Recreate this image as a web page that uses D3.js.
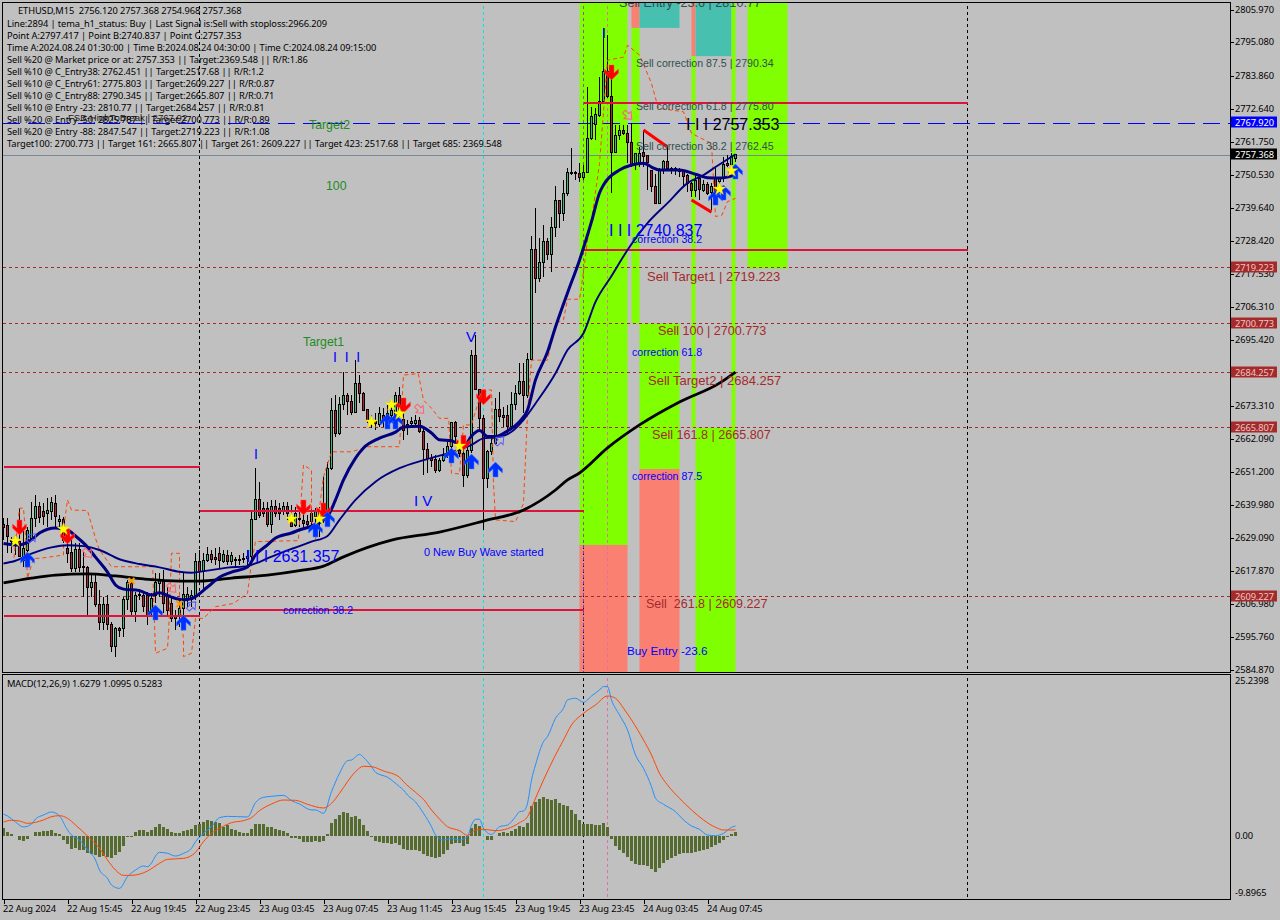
<!DOCTYPE html>
<html><head><meta charset="utf-8">
<script src="https://cdnjs.cloudflare.com/ajax/libs/d3/7.8.5/d3.min.js"></script>
<style>
html,body{margin:0;padding:0;background:#c0c0c0;overflow:hidden}
svg{display:block}
text{white-space:pre}
.ui{font-family:"Noto Sans",sans-serif;font-size:9.3px;letter-spacing:-0.1px;fill:#000}
.lab{font-family:"Liberation Sans",sans-serif}
</style></head><body><svg id="c" width="1280" height="920"></svg>
<script>
// ---------- candles (bars 0..183), ETHUSD M15 ----------
const opens=[
2633.3,2633.1,2628.2,2626.6,2627.7,2621.5,2624.9,2628.2,2635.5,2639.6,
2637.7,2637.2,2637.7,2640.5,2634.4,2635.2,2625.5,2624.0,2618.8,2625.2,
2619.5,2619.1,2612.4,2614.0,2606.8,2600.6,2606.5,2600.1,2592.5,2598.7,
2598.7,2608.2,2613.7,2604.2,2610.0,2609.5,2609.5,2604.8,2609.8,2613.7,
2614.3,2609.8,2607.0,2602.6,2602.6,2605.4,2608.2,2608.2,2609.2,2621.2,
2617.6,2621.5,2623.4,2622.4,2623.8,2621.2,2623.2,2621.0,2621.8,2621.8,
2621.8,2622.1,2622.7,2635.0,2641.7,2638.9,2638.9,2633.3,2639.6,2638.9,
2638.3,2639.6,2635.2,2633.0,2635.5,2634.7,2634.4,2634.4,2636.1,2637.7,
2640.0,2637.7,2652.3,2671.8,2664.0,2673.5,2676.8,2674.6,2670.9,2680.7,
2677.4,2672.0,2668.2,2668.0,2667.1,2669.8,2669.0,2670.1,2669.6,2676.8,
2668.7,2667.1,2667.3,2667.3,2668.4,2664.5,2658.6,2655.6,2655.3,2651.7,
2655.0,2656.7,2659.5,2667.6,2658.4,2657.3,2650.0,2658.4,2689.9,2678.7,
2669.0,2648.9,2657.8,2660.6,2672.0,2669.8,2669.8,2666.2,2673.5,2677.4,
2681.3,2676.8,2688.8,2725.6,2715.9,2721.3,2728.2,2723.9,2733.0,2741.9,
2737.7,2744.4,2751.4,2751.3,2750.9,2749.7,2751.4,2762.6,2767.6,2770.6,
2775.1,2785.1,2776.8,2758.0,2763.6,2765.6,2764.5,2761.4,2753.9,2754.4,
2758.0,2756.9,2752.0,2746.8,2741.0,2752.2,2755.2,2752.8,2752.8,2752.4,
2751.6,2750.5,2747.7,2745.5,2749.2,2745.5,2747.4,2744.6,2749.4,2748.3,
2749.4,2754.4,2753.9,2756.12];
const highs=[
2635.5,2635.5,2629.4,2629.9,2638.9,2632.2,2632.5,2641.1,2643.3,2641.1,
2640.5,2642.2,2642.8,2643.3,2636.6,2636.1,2629.9,2628.2,2627.1,2627.1,
2624.3,2619.5,2616.5,2617.1,2611.5,2609.2,2609.8,2600.9,2599.2,2599.2,
2609.2,2614.9,2614.9,2610.9,2612.0,2610.9,2610.9,2610.4,2617.1,2617.1,
2618.2,2612.6,2609.2,2604.8,2608.2,2617.1,2612.6,2611.5,2623.8,2624.9,
2623.8,2626.0,2624.9,2625.5,2626.0,2624.9,2624.9,2624.3,2622.7,2623.2,
2623.8,2624.9,2637.7,2652.3,2647.8,2641.1,2641.1,2641.7,2641.7,2640.5,
2641.1,2641.1,2640.0,2639.4,2637.7,2637.7,2636.6,2638.9,2638.9,2639.4,
2649.5,2654.5,2675.7,2676.8,2676.3,2684.6,2677.4,2676.8,2688.5,2683.5,
2677.9,2672.0,2670.1,2670.7,2672.9,2672.4,2673.5,2673.5,2677.9,2679.6,
2671.8,2668.4,2669.3,2670.1,2669.6,2666.2,2660.6,2657.0,2656.7,2655.6,
2659.0,2661.2,2667.9,2668.2,2660.1,2660.6,2660.1,2691.9,2697.0,2679.0,
2670.1,2658.4,2662.9,2675.7,2677.9,2672.9,2673.5,2677.9,2680.2,2687.4,
2687.4,2690.8,2730.1,2739.4,2729.3,2733.8,2729.3,2736.6,2746.8,2742.1,
2748.9,2752.8,2759.5,2752.0,2754.4,2754.0,2780.1,2773.4,2772.9,2783.5,
2799.7,2797.4,2784.0,2767.3,2767.3,2767.3,2767.3,2767.8,2757.8,2760.0,
2765.6,2757.2,2752.2,2751.0,2752.8,2755.5,2760.0,2753.3,2753.3,2752.8,
2752.0,2751.0,2748.3,2750.5,2750.0,2748.8,2748.3,2747.7,2752.8,2750.0,
2756.6,2757.2,2757.8,2757.368];
const lows=[
2628.2,2623.8,2623.8,2623.2,2622.4,2619.3,2624.3,2628.2,2632.7,2633.8,
2633.3,2632.7,2634.9,2632.7,2631.6,2627.1,2620.4,2617.6,2617.6,2617.6,
2609.2,2602.6,2609.2,2605.9,2598.1,2598.1,2598.1,2590.8,2589.2,2595.9,
2595.9,2604.8,2602.6,2600.9,2608.2,2604.2,2599.8,2602.6,2607.0,2609.2,
2603.7,2602.6,2600.9,2598.1,2599.2,2602.6,2605.9,2605.9,2608.2,2614.9,
2611.5,2621.0,2620.4,2619.9,2618.8,2620.4,2619.9,2619.9,2619.3,2619.9,
2620.4,2619.9,2621.0,2635.0,2635.5,2636.1,2632.7,2630.5,2636.1,2634.9,
2636.6,2634.9,2632.7,2632.7,2632.7,2632.2,2632.2,2632.7,2631.6,2629.4,
2633.8,2636.6,2651.7,2662.9,2663.4,2671.8,2670.1,2670.1,2670.7,2674.0,
2671.8,2667.3,2665.7,2665.1,2666.2,2666.2,2666.2,2668.4,2668.4,2669.6,
2661.8,2663.4,2665.7,2666.2,2664.0,2650.0,2650.6,2652.8,2650.8,2651.1,
2654.5,2655.6,2657.8,2660.1,2656.2,2645.9,2648.9,2657.5,2678.5,2665.1,
2631.6,2645.6,2656.7,2660.1,2667.9,2666.2,2664.0,2665.1,2671.8,2676.8,
2670.7,2675.7,2688.5,2710.9,2714.8,2716.5,2722.0,2718.1,2729.9,2732.7,
2735.2,2743.6,2750.5,2748.8,2748.3,2749.0,2751.1,2762.3,2762.3,2770.0,
2774.5,2776.2,2744.4,2757.8,2762.3,2763.9,2754.4,2753.3,2752.2,2753.3,
2753.3,2745.5,2744.9,2740.8,2740.8,2751.0,2752.2,2751.0,2750.5,2750.0,
2746.6,2744.9,2743.3,2743.3,2742.1,2744.9,2743.8,2738.8,2740.5,2744.9,
2748.3,2753.3,2753.3,2754.968];
const closes=[
2632.5,2629.4,2627.7,2628.2,2622.7,2625.5,2631.6,2635.5,2639.6,2635.8,
2636.1,2638.1,2640.8,2636.1,2635.2,2628.2,2623.8,2618.8,2625.2,2619.1,
2619.1,2612.4,2614.0,2606.5,2600.6,2606.5,2600.1,2592.5,2598.7,2597.9,
2608.2,2614.0,2604.2,2609.8,2609.6,2605.9,2603.1,2608.7,2614.0,2614.9,
2607.0,2604.8,2602.0,2601.8,2605.4,2610.0,2610.0,2609.8,2621.2,2617.6,
2621.3,2623.4,2621.8,2621.8,2621.3,2623.4,2621.2,2623.2,2621.3,2621.5,
2622.1,2622.7,2635.2,2641.7,2636.6,2637.2,2633.3,2639.6,2637.2,2637.0,
2639.6,2637.2,2632.9,2637.2,2635.0,2633.8,2633.6,2637.2,2638.3,2634.4,
2636.1,2652.3,2671.8,2664.0,2673.5,2676.8,2674.6,2670.9,2680.7,2677.4,
2671.8,2668.4,2667.6,2667.3,2670.7,2668.4,2670.7,2671.8,2676.8,2671.8,
2665.1,2666.2,2667.9,2668.2,2664.5,2658.6,2655.6,2654.8,2651.7,2654.8,
2656.7,2659.7,2667.6,2662.9,2657.3,2650.0,2658.2,2689.9,2678.7,2669.0,
2648.9,2657.8,2660.6,2672.0,2669.6,2669.3,2666.2,2673.5,2677.4,2681.3,
2676.8,2688.8,2725.6,2715.9,2721.3,2728.2,2723.9,2733.0,2741.9,2737.7,
2744.4,2751.3,2751.2,2750.9,2749.7,2751.4,2762.6,2770.1,2770.8,2775.1,
2785.1,2776.8,2758.0,2763.9,2765.6,2764.3,2761.4,2753.9,2757.6,2757.8,
2756.7,2754.8,2746.6,2741.0,2752.2,2755.2,2752.8,2752.0,2752.2,2751.6,
2750.0,2747.7,2745.5,2748.8,2745.7,2747.4,2744.4,2746.8,2744.9,2749.4,
2753.9,2753.6,2756.7,2757.368];

// ---------- moving averages: bar index + price read at those bars ----------
const maFastBars=[0,4,7,9,13,16,18,21,23,26,28,30,34,37,39,42,45,47,51,54,57,61,63,66,68,72,74,77,81,83,85,88,90,94,98,100,104,107,109,112,115,117,119,121,123,126,129,131,133,136,138,141,144,147,149,150,154,157,160,162,164,169,173,176,179,183];
const maFast=[2627.1,2626.6,2628.3,2630.6,2632.3,2631.6,2629.6,2625.9,2622.5,2617.5,2613.2,2611.8,2611.3,2609.8,2610.6,2609.1,2608.2,2608.6,2612.5,2615.8,2617.5,2619.2,2623.2,2626.6,2628.9,2630.6,2631.6,2632.9,2636.1,2641.7,2648.4,2655.7,2659.1,2662.4,2664.4,2666.1,2666.4,2664.1,2661.8,2661.5,2659.5,2663.1,2664.9,2662.9,2662.9,2664.8,2667.9,2671.8,2681.9,2691.2,2699.6,2711.0,2722.0,2734.9,2744.5,2747.2,2752.2,2753.9,2754.5,2753.2,2752.2,2752.2,2750.8,2749.6,2749.5,2750.5];
const maSlowBars=[0,3,7,12,16,20,24,29,34,39,44,47,51,56,61,63,66,70,74,77,81,84,88,93,99,105,111,117,120,123,127,130,133,138,141,145,148,152,156,161,166,171,175,178,183];
const maSlow=[2620.4,2621.3,2623.7,2625.8,2626.5,2626.2,2624.9,2621.8,2620.2,2619.1,2617.6,2617.3,2618.0,2619.0,2619.5,2620.4,2622.1,2624.3,2626.2,2627.7,2629.6,2635.0,2641.7,2647.8,2652.3,2655.0,2657.3,2660.1,2662.3,2662.6,2664.5,2668.5,2674.0,2684.1,2691.9,2697.5,2708.0,2716.7,2725.4,2734.4,2741.1,2747.8,2750.5,2753.2,2757.5];
const maLongBars=[0,7,13,21,28,35,44,49,57,66,74,80,85,97,109,120,130,138,141,144,151,159,169,179,183];
const maLong=[2613.9,2615.5,2616.5,2616.9,2616.2,2615.2,2614.5,2614.5,2615.5,2616.5,2618.0,2619.5,2622.6,2628.2,2630.9,2634.6,2638.3,2645.0,2648.4,2650.7,2659.1,2666.8,2674.5,2680.8,2684.5];

// ---------- dashed orange envelope ----------
const envBars=[0,2.5,4,5,5.4,6,7.5,9,15,15,16,17,21,23,24,27,36,37.3,37.5,38,41,41.3,42,44,44,45,45,47,48,50,53,57.5,61,62,63,72,73.7,75,77,77,78,80,82,87,91,99,100,103.7,105,107,109,111.3,112,114,115,117,119.6,122,122.5,123,128,130,131,132,136,138,140,141,144,144.5,146,147,149,151,155,156,159,162,163.7,170,172,177,178,179.6,181,183];
const envPrice=[2620.4,2621,2638.9,2638.9,2632.2,2615.4,2622.1,2622.1,2623.2,2631.6,2641.7,2638.3,2638.1,2628.8,2624.9,2619.3,2619.3,2619.3,2610.4,2590.3,2592,2598.1,2623.8,2623.8,2608.2,2594.8,2589.2,2590.3,2602,2602,2605.9,2607,2610.4,2620.4,2627.7,2628,2628,2653.4,2651.7,2635,2628.3,2649.5,2657.8,2657.8,2659.5,2659.5,2683.5,2684,2675.1,2672.4,2669,2669,2650.6,2650.4,2666.8,2666.8,2678.5,2678.5,2647.2,2635,2634.4,2640.5,2670.7,2688.5,2688.5,2700.8,2702,2708.9,2708.9,2713,2728.7,2735.4,2754.4,2789,2790,2794,2790.7,2781.2,2772.9,2771.7,2764.5,2761.1,2736.6,2737.1,2741.6,2742.7];

// ---------- signal markers (bar, price) ----------
const sellArrowBars=[4,16,75,80,100,115,120,152];
const sellArrowPrice=[2632.6,2629.6,2639.3,2638.3,2673.5,2661,2676.2,2785];
const buyArrowBars=[6,38,45,78,81,96,98,112,117,123,178,180,183];
const buyArrowPrice=[2621.5,2603.8,2600.4,2631.6,2635,2667.8,2667.8,2656.4,2654.4,2651.7,2742.8,2744.5,2751.5];
const starBars=[3,15,72,79,92,97,99,114,179,182];
const starPrice=[2627.9,2631.9,2635.3,2635.3,2667.8,2673.5,2670.5,2659.7,2745.8,2751.9];
const crossBars=[32,44];
const crossPrice=[2614.5,2606.8];
const hollowSellBars=[21,42,104,156];
const hollowSellPrice=[2623.9,2612.2,2672.1,2770.6];
const hollowBuyBars=[7,47,124];
const hollowBuyPrice=[2628.9,2606.1,2661.4];

// ---------- levels ----------
const targetLevels=[2719.223,2700.773,2684.257,2665.807,2609.227];
const highToBreak=2767.920, lastPrice=2757.368;
const segBarsFrom=[0,49,0,49,145,145];
const segBarsTo=[49,145,49,145,241,241];
const segPrice=[2652.7,2638.0,2602.8,2604.8,2774.65,2725.4];
const wedgeFrom=[160,172], wedgeTo=[166,177];
const wedgePriceFrom=[2765.6,2742.15], wedgePriceTo=[2759.9,2738.1];

// ---------- zones: start bar, end bar, upper price, lower price, kind ----------
const zoneStart=[144,144,157,157,159,159,159,172,172,173,173,182,186];
const zoneEnd=[156,156,159,159,169,169,169,173,173,182,183,183,196];
const zoneUpper=[2815,2626.6,2815,2799.8,2815,2700.773,2652,2815,2790.34,2815,2665.807,2815,2815];
const zoneLower=[2626.6,2580,2799.8,2700.773,2799.8,2652,2580,2790.34,2665.807,2790.34,2580,2665.807,2719.223];
const zoneKind=["g","s","s","g","t","g","s","s","g","t","g","g","g"];

// ---------- axes ----------
const priceTicks=[2805.970,2795.080,2783.860,2772.640,2761.750,2750.530,2739.640,2728.420,2717.530,2706.310,2695.420,2673.310,2662.090,2651.200,2639.980,2629.090,2617.870,2606.980,2595.760,2584.870];
const timeTickBars=[0,16,32,48,64,80,96,112,128,144,160,176];
const timeLabels=["22 Aug 2024","22 Aug 15:45","22 Aug 19:45","22 Aug 23:45","23 Aug 03:45","23 Aug 07:45","23 Aug 11:45","23 Aug 15:45","23 Aug 19:45","23 Aug 23:45","24 Aug 03:45","24 Aug 07:45"];
const macdTicks=[25.2398,0,-9.8965];
const macdTickLabels=["25.2398","0.00","-9.8965"];

// ---------- MACD ----------
const macdHist=[
1.3,.65,.38,.05,-.65,-.8,-.5,.05,.65,.65,.8,.8,1,.5,.33,-.65,-1.3,-2.1,-1.95,-2.3,
-2.3,-2.8,-2.9,-3.1,-3.4,-3.25,-3.4,-3.6,-3.1,-2.6,-1.6,-.15,-.1,.65,1,1,.65,1,1.45,1.95,
1.45,1.15,.65,.5,.5,.8,1,1.15,1.8,1.95,2.3,2.6,2.45,2.3,2.1,1.45,1.8,1.15,1,.65,
.5,.5,1.15,1.95,1.95,1.95,1.45,1.45,1.15,1,.8,.5,-.25,-.25,-.5,-1,-1,-1,-.8,-1,
-.8,.33,2.1,2.8,3.4,3.9,3.75,3.1,3.25,2.8,1.8,.8,0,-.8,-1,-1.15,-1.15,-1.3,-1.15,-1.45,
-2.1,-2.3,-2.3,-2.3,-2.45,-2.9,-3.25,-3.4,-3.6,-3.4,-2.9,-2.3,-1.3,-1.15,-1.15,-1.6,-1.3,1.3,1.95,1.6,
.05,-.65,-.65,.05,.5,.65,.5,.8,1.15,1.6,1.45,2.1,4.9,5.55,6,6.35,6,5.85,6,5.4,
5.05,4.9,4.25,3.6,2.6,1.95,1.95,1.95,1.8,1.8,2.1,1.45,-.45,-1.6,-2.3,-2.8,-3.4,-4.1,-4.55,-4.7,
-4.7,-4.9,-5.4,-5.85,-5.2,-4.4,-3.9,-3.6,-3.25,-2.9,-2.8,-2.8,-2.8,-2.6,-2.45,-2.3,-2.1,-1.8,-1.45,-1.15,
-.65,-.15,.33,.65];
const macdMainBars=[0,1,3,5,7,8,10,12,14,16,17,19,21,23,24,26,27,29,31,33,35,36,39,41,43,45,47,48,50,52,54,56,61,63,65,67,70,72,74,77,78,80,82,84,86,87,89,90,92,93,96,99,100,101,103,105,107,108,110,112,114,116,117,118,119,120,122,124,126,128,129,130,131,132,133,135,136,138,140,141,143,145,147,149,150,151,152,154,156,158,160,162,163,165,168,170,172,174,176,178,180,182,183];
const macdMain=[3.58,3.26,2.28,1.47,1.95,2.77,3.42,3.91,3.26,.98,.16,-.65,-2.28,-3.9,-5.54,-6.9,-7.98,-8.53,-6.62,-5.54,-4.89,-5,-2.66,-2.82,-3.26,-2.82,-2,-.92,.43,1.52,2.99,3.2,3.1,5.43,6.3,6.46,6.62,5.76,5.21,4.24,4.24,3.69,7.22,10.2,12.27,12.38,13.3,12.81,11.29,10.37,9.56,8.04,7.49,6.68,5.54,3.69,1.52,.16,-.65,-.38,-.65,-.1,1.79,2.72,2.72,1.25,.27,1.52,1.79,3.15,3.96,4.07,5.32,9.12,11.57,15.37,16.18,19.17,20.8,22.15,22.43,21.77,22.8,23.78,24.33,24.33,22.15,19.71,17.27,13.19,11.02,8.04,6.14,5.16,3.96,2.61,1.63,1.09,.16,.05,.43,1.41,1.63];
const macdSignalBars=[0,2,4,6,8,10,12,14,16,18,21,24,26,28,30,32,36,39,41,45,48,50,52,54,57,60,62,64,67,70,73,76,80,82,84,86,88,90,92,95,99,100,103,105,107,109,111,114,116,118,120,123,126,129,131,133,135,138,140,142,145,148,151,153,155,157,160,162,164,166,169,172,175,178,180,183];
const macdSignal=[2.28,2.55,2.44,2.06,2.23,2.61,3.15,3.31,2.88,1.79,0,-2,-3.91,-5.54,-6.41,-6.41,-5.7,-4.45,-3.8,-3.64,-2.66,-.92,.43,1.25,2.17,2.5,2.99,4.13,5.21,5.86,5.81,5.16,4.56,5.32,6.95,8.85,10.48,11.35,11.29,10.59,9.56,8.85,7.11,5.97,4.24,2.77,1.52,.87,.11,.98,1.09,.87,1.19,2.17,3.15,6.14,9.12,13.19,15.64,18.08,19.98,21.34,22.8,22.43,20.8,18.9,15.64,13.19,10.2,8.31,6.14,4.24,2.61,1.41,.98,.98];

// ---------- text ----------
const infoLines=[
"Line:2894 | tema_h1_status: Buy | Last Signal is:Sell with stoploss:2966.209",
"Point A:2797.417 | Point B:2740.837 | Point C:2757.353",
"Time A:2024.08.24 01:30:00 | Time B:2024.08.24 04:30:00 | Time C:2024.08.24 09:15:00",
"Sell %20 @ Market price or at: 2757.353 || Target:2369.548 || R/R:1.86",
"Sell %10 @ C_Entry38: 2762.451 || Target:2517.68 || R/R:1.2",
"Sell %10 @ C_Entry61: 2775.803 || Target:2609.227 || R/R:0.87",
"Sell %10 @ C_Entry88: 2790.345 || Target:2665.807 || R/R:0.71",
"Sell %10 @ Entry -23: 2810.77 || Target:2684.257 || R/R:0.81",
"Sell %20 @ Entry -50: 2825.787 || Target:2700.773 || R/R:0.89",
"Sell %20 @ Entry -88: 2847.547 || Target:2719.223 || R/R:1.08",
"Target100: 2700.773 || Target 161: 2665.807 || Target 261: 2609.227 || Target 423: 2517.68 || Target 685: 2369.548"];
const headerText="ETHUSD,M15  2756.120 2757.368 2754.968 2757.368";
const macdTitle="MACD(12,26,9) 1.6279 1.0995 0.5283";

const svg=d3.select("#c");
const W=1280,paneR=1230,paneL=2.5;
const x=d3.scaleLinear().domain([0,241]).range([3.5,967.5]);
const y=d3.scaleLinear().domain([2805.97,2584.87]).range([9.5,669.5]);
const ym=d3.scaleLinear().domain([0,25.2398]).range([836,681]);

svg.append("rect").attr("width",W).attr("height",920).attr("fill","#c0c0c0");
const defs=svg.append("defs");
defs.append("clipPath").attr("id","pm").append("rect").attr("x",3).attr("y",3).attr("width",paneR-3).attr("height",669);
defs.append("clipPath").attr("id","pb").append("rect").attr("x",3).attr("y",675).attr("width",paneR-3).attr("height",224);
const main=svg.append("g").attr("clip-path","url(#pm)");
const sub=svg.append("g").attr("clip-path","url(#pb)");

// zones
const zoneColors={g:"#7fff00",s:"#fa8072",t:"#48c0b0"};
main.append("g").selectAll("rect").data(d3.range(zoneStart.length)).join("rect")
 .attr("x",i=>x(zoneStart[i])).attr("width",i=>x(zoneEnd[i])-x(zoneStart[i]))
 .attr("y",i=>y(zoneUpper[i])).attr("height",i=>y(zoneLower[i])-y(zoneUpper[i]))
 .attr("fill",i=>zoneColors[zoneKind[i]]);

// verticals
const vBars=[49,120,145,151,241];
const vCol=["#000","#00e5e5","#000","#e06fa8","#000"];
[main,sub].forEach(g=>{
 g.append("g").selectAll("line").data(vBars).join("line")
  .attr("x1",d=>x(d)).attr("x2",d=>x(d)).attr("y1",0).attr("y2",920)
  .attr("stroke",(d,i)=>vCol[i]).attr("stroke-width",1).attr("stroke-dasharray","3,3").attr("shape-rendering","crispEdges");
});
// the line at bar 145 reads purple on green and blue on salmon
main.append("line").attr("x1",x(145)).attr("x2",x(145)).attr("y1",0).attr("y2",y(2626.6)).attr("stroke","#8a55a8").attr("stroke-dasharray","3,3").attr("shape-rendering","crispEdges");
main.append("line").attr("x1",x(145)).attr("x2",x(145)).attr("y1",y(2626.6)).attr("y2",672).attr("stroke","#4a4ad0").attr("stroke-dasharray","3,3").attr("shape-rendering","crispEdges");

// horizontals
main.append("g").selectAll("line").data(targetLevels).join("line")
 .attr("x1",3).attr("x2",paneR).attr("y1",d=>Math.round(y(d))-.5).attr("y2",d=>Math.round(y(d))-.5)
 .attr("stroke","#a52a2a").attr("stroke-dasharray","3,3").attr("shape-rendering","crispEdges");
main.append("line").attr("x1",3).attr("x2",paneR).attr("y1",Math.round(y(highToBreak))+.5).attr("y2",Math.round(y(highToBreak))+.5)
 .attr("stroke","#0000ff").attr("stroke-dasharray","17,8").attr("shape-rendering","crispEdges");
main.append("line").attr("x1",3).attr("x2",paneR).attr("y1",Math.round(y(lastPrice))+.5).attr("y2",Math.round(y(lastPrice))+.5)
 .attr("stroke","#778899").attr("shape-rendering","crispEdges");

// candles
const cg=main.append("g").attr("shape-rendering","crispEdges");
opens.forEach((o,i)=>{
 const c=closes[i],px=x(i);
 cg.append("line").attr("x1",px).attr("x2",px).attr("y1",y(highs[i])).attr("y2",y(lows[i])).attr("stroke","#000");
 const t=Math.max(o,c),b=Math.min(o,c);
 cg.append("rect").attr("x",px-1).attr("width",2).attr("y",y(t)).attr("height",Math.max(1,y(b)-y(t)))
  .attr("fill",c>=o?"#3cb878":"#b22234").attr("stroke","#000").attr("stroke-width",1);
});

// segments
main.append("g").selectAll("line").data(segPrice).join("line")
 .attr("x1",(d,i)=>x(segBarsFrom[i])).attr("x2",(d,i)=>x(segBarsTo[i])).attr("y1",d=>y(d)).attr("y2",d=>y(d))
 .attr("stroke","#dc143c").attr("stroke-width",2).attr("shape-rendering","crispEdges");
main.append("g").selectAll("line").data(wedgeFrom).join("line")
 .attr("x1",d=>x(d)).attr("x2",(d,i)=>x(wedgeTo[i])).attr("y1",(d,i)=>y(wedgePriceFrom[i])).attr("y2",(d,i)=>y(wedgePriceTo[i]))
 .attr("stroke","#ff0000").attr("stroke-width",3);

// envelope, MAs
const line=(bars,vals,yy,curve)=>d3.line().curve(curve||d3.curveLinear).x((d,i)=>x(bars[i])).y((d,i)=>yy(vals[i]))(vals);
const smooth=d3.curveMonotoneX;
main.append("path").attr("d",line(envBars,envPrice,y)).attr("fill","none").attr("stroke","#ff4500").attr("stroke-dasharray","4,3");
main.append("path").attr("d",line(maLongBars,maLong,y,smooth)).attr("fill","none").attr("stroke","#000").attr("stroke-width",2.8);
main.append("path").attr("d",line(maSlowBars,maSlow,y,smooth)).attr("fill","none").attr("stroke","#000080").attr("stroke-width",1.9);
main.append("path").attr("d",line(maFastBars,maFast,y,smooth)).attr("fill","none").attr("stroke","#000080").attr("stroke-width",3);

// markers
const upArrow="M0,-8L7,-1L7,3L2.5,-1L2.5,7L-2.5,7L-2.5,-1L-7,3L-7,-1Z";
const hollow="M0,-6L5,0L2,0L2,5L-2,5L-2,0L-5,0Z";
function marks(bars,prices,fn){const g=main.append("g");bars.forEach((b,i)=>fn(g,x(b),y(prices[i])));}
marks(sellArrowBars,sellArrowPrice,(g,a,b)=>g.append("path").attr("d",upArrow).attr("transform",`translate(${a},${b}) rotate(180)`).attr("fill","#ff0000").attr("stroke","#ff5050").attr("stroke-width",.5));
marks(buyArrowBars,buyArrowPrice,(g,a,b)=>g.append("path").attr("d",upArrow).attr("transform",`translate(${a},${b})`).attr("fill","#0030ff").attr("stroke","#3a80ff").attr("stroke-width",.5));
marks(hollowSellBars,hollowSellPrice,(g,a,b)=>g.append("path").attr("d",hollow).attr("transform",`translate(${a},${b}) rotate(135)`).attr("fill","none").attr("stroke","#ff6070").attr("stroke-width",1));
marks(hollowBuyBars,hollowBuyPrice,(g,a,b)=>g.append("path").attr("d",hollow).attr("transform",`translate(${a},${b}) rotate(45)`).attr("fill","none").attr("stroke","#5a5aff").attr("stroke-width",1));
marks(crossBars,crossPrice,(g,a,b)=>g.append("path").attr("d","M-3,-3L3,3M3,-3L-3,3").attr("transform",`translate(${a},${b})`).attr("stroke","#ff9900").attr("stroke-width",2));
const star=d3.symbol().type(d3.symbolStar).size(50)();
marks(starBars,starPrice,(g,a,b)=>g.append("path").attr("d",star).attr("transform",`translate(${a},${b})`).attr("fill","#ffff00").attr("stroke","#e8d000").attr("stroke-width",.4));

// annotations (layout table for text objects)
const blue="#0000ff",brown="#a52a2a",slate="#2f4f4f",green="#228b22";
const notes=[
["FSB-HighToBreak | 2767.92",68,117,9.6,"#222"],
["Target2",309,125,12.3,green],["100",326,186,12.3,green],["Target1",303,342,12.3,green],
["I  I  I",333,357,14,blue],["V",466,336,15,blue],["I V",414,500,15,blue],["I",254,454,14,blue],["I",602,33,14,blue],
["I I I 2631.357",246,556,16,blue],["I I I 2740.837",609,230,16,blue],["I I I 2757.353",686,124,16,"#000"],
["0 New Buy Wave started",424,552,10.9,blue],
["correction 38.2",283,610,10.6,blue],["correction 38.2",632,239,10.6,blue],["correction 61.8",632,352,10.6,blue],["correction 87.5",632,476,10.6,blue],
["Buy Entry -23.6",627,650,11.7,blue],
["Sell Entry -23.6 | 2810.77",619,3,12.6,slate],
["Sell correction 87.5 | 2790.34",636,63,10.6,slate],["Sell correction 61.8 | 2775.80",636,106,10.6,slate],["Sell correction 38.2 | 2762.45",636,146,10.6,slate],
["Sell Target1 | 2719.223",647,276,13,brown],["Sell 100 | 2700.773",658,331,12.6,brown],["Sell Target2 | 2684.257",648,380,13,brown],["Sell 161.8 | 2665.807",652,435,12.6,brown],["Sell  261.8 | 2609.227",646,604,12.5,brown]
];
main.append("g").selectAll("text").data(notes).join("text").attr("class","lab")
 .attr("x",d=>d[1]).attr("y",d=>d[2]).attr("font-size",d=>d[3]).attr("fill",d=>d[4]).attr("dominant-baseline","central").text(d=>d[0]);

// info block
const info=main.append("g");
info.append("text").attr("class","ui").attr("x",18).attr("y",10.5).attr("dominant-baseline","central").text(headerText);
info.selectAll("text.l").data(infoLines).join("text").attr("class","ui l").attr("x",7)
 .attr("y",(d,i)=>23.7+12*i).attr("dominant-baseline","central").text(d=>d);

// MACD pane
sub.append("g").selectAll("rect").data(macdHist).join("rect").attr("shape-rendering","crispEdges")
 .attr("x",(d,i)=>x(i)-1.5).attr("width",3).attr("y",d=>d>=0?ym(d):ym(0)).attr("height",d=>Math.max(0.6,Math.abs(ym(d)-ym(0))))
 .attr("fill","#556b2f");
sub.append("path").attr("d",line(macdMainBars,macdMain,ym,smooth)).attr("fill","none").attr("stroke","#1e90ff");
sub.append("path").attr("d",line(macdSignalBars,macdSignal,ym,smooth)).attr("fill","none").attr("stroke","#ff4500");
svg.append("text").attr("class","ui").attr("x",7).attr("y",683).attr("dominant-baseline","central").text(macdTitle);

// frames
const frame=(t,b)=>svg.append("rect").attr("x",paneL).attr("y",t).attr("width",paneR-paneL).attr("height",b-t).attr("fill","none").attr("stroke","#000").attr("shape-rendering","crispEdges");
frame(2.5,672.5);frame(674.5,899.5);

// axes
const yAxis=d3.axisRight(y).tickValues(priceTicks).tickSize(4).tickFormat(d3.format(".3f"));
const ya=svg.append("g").attr("transform",`translate(${paneR},0)`).call(yAxis);
const mAxis=d3.axisRight(ym).tickValues(macdTicks).tickSize(0).tickFormat((d,i)=>macdTickLabels[i]);
const ma=svg.append("g").attr("transform",`translate(${paneR},0)`).call(mAxis);
const xAxis=d3.axisBottom(x).tickValues(timeTickBars).tickSize(4).tickFormat((d,i)=>timeLabels[i]);
const xa=svg.append("g").attr("transform","translate(0,899.5)").call(xAxis);
[ya,ma,xa].forEach(g=>{g.select(".domain").remove();
 g.selectAll("text").attr("class","ui").attr("font-family",null).attr("font-size",null);
 g.selectAll("line").attr("stroke","#000").attr("shape-rendering","crispEdges");});
ya.selectAll("text").attr("x",5);
ma.selectAll("text").attr("x",5);
ma.selectAll("text").filter((d,i)=>i==2).attr("dy","-0.18em");
xa.selectAll("text").attr("text-anchor","start").attr("x",-1).attr("y",6);

// price flags
const flags=[[2767.920,"#0000ff"],[2757.368,"#000000"],[2719.223,"#a52a2a"],[2700.773,"#a52a2a"],[2684.257,"#a52a2a"],[2665.807,"#a52a2a"],[2609.227,"#a52a2a"]];
const fg=svg.append("g");
flags.forEach(([p,col])=>{
 const yy=Math.round(y(p))-1;
 fg.append("rect").attr("x",1231).attr("y",yy-5.5).attr("width",46).attr("height",11).attr("fill",col);
 fg.append("text").attr("class","ui").style("fill",col=="#a52a2a"?"#e8c8c8":"#fff").attr("x",1235).attr("y",yy).attr("dominant-baseline","central").text(d3.format(".3f")(p));
});
</script></body></html>
